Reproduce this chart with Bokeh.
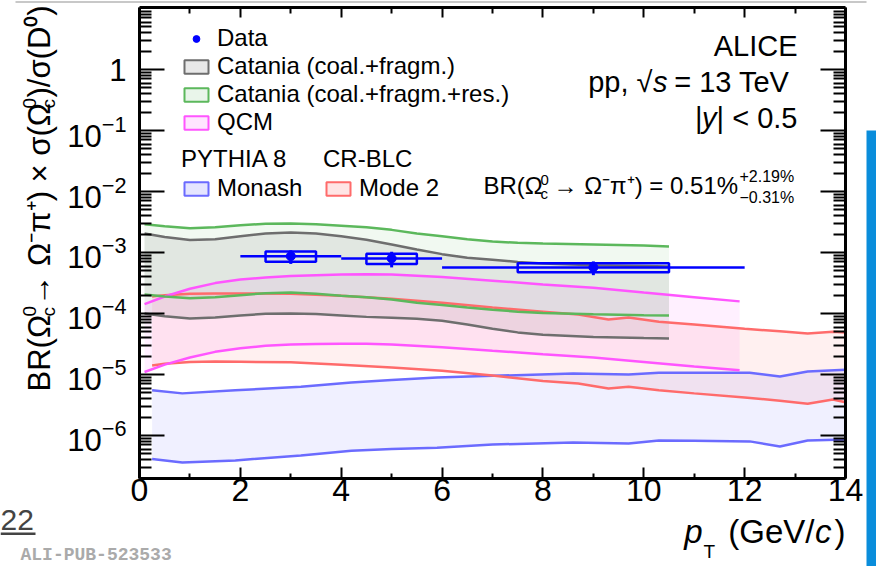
import math
from bokeh.plotting import figure
from bokeh.models import (FixedTicker, LogAxis, LinearAxis, LogTickFormatter, CustomJSTickFormatter,
                          Label, Legend, LegendItem, Range1d, BoxAnnotation)
from bokeh.embed import file_html
from bokeh.resources import INLINE

# ---------------- data ----------------
data_pt = [3.0, 5.0, 9.0]
data_pt_lo = [2.0, 4.0, 6.0]
data_pt_hi = [4.0, 6.0, 12.0]
data_val = [8.7e-4, 8.0e-4, 5.7e-4]
data_stat = [2.2e-4, 2.3e-4, 1.45e-4]
data_sys = [1.65e-4, 1.5e-4, 0.97e-4]

cat_pt = [0.1, 0.5, 1.0, 1.5, 2.0, 2.5, 3.0, 3.5, 4.0, 4.5, 5.0, 5.5, 6.0, 6.5, 7.0, 7.5, 8.0, 9.0, 10.0, 10.5]
cat1_hi = [2.05e-3, 1.8e-3, 1.6e-3, 1.65e-3, 1.85e-3, 2.05e-3, 2.13e-3, 2.05e-3, 1.85e-3, 1.62e-3,
           1.35e-3, 1.12e-3, 9.4e-4, 8.2e-4, 7.6e-4, 7.0e-4, 6.6e-4, 6.2e-4, 6.0e-4, 5.9e-4]
cat1_lo = [1.0e-4, 9.0e-5, 8.3e-5, 8.6e-5, 9.3e-5, 9.9e-5, 1.0e-4, 9.8e-5, 9.3e-5, 8.8e-5,
           8.5e-5, 8.2e-5, 7.6e-5, 6.6e-5, 5.6e-5, 4.9e-5, 4.5e-5, 4.1e-5, 3.95e-5, 3.9e-5]
cat2_hi = [2.9e-3, 2.7e-3, 2.5e-3, 2.6e-3, 2.8e-3, 2.95e-3, 3.0e-3, 2.9e-3, 2.75e-3, 2.6e-3,
           2.35e-3, 2.05e-3, 1.85e-3, 1.65e-3, 1.52e-3, 1.44e-3, 1.4e-3, 1.35e-3, 1.3e-3, 1.26e-3]
cat2_lo = [2.04e-4, 1.9e-4, 1.77e-4, 1.85e-4, 2.0e-4, 2.15e-4, 2.2e-4, 2.1e-4, 1.95e-4, 1.85e-4,
           1.7e-4, 1.5e-4, 1.38e-4, 1.25e-4, 1.15e-4, 1.07e-4, 1.02e-4, 9.7e-5, 9.4e-5, 9.3e-5]

qcm_pt = [0.1, 0.5, 1.0, 1.5, 2.0, 2.5, 3.0, 3.5, 4.0, 4.5, 5.0, 6.0, 7.0, 8.0, 9.0, 10.0, 11.0, 11.9]
qcm_hi = [1.42e-4, 1.9e-4, 2.55e-4, 3.15e-4, 3.6e-4, 3.9e-4, 4.1e-4, 4.25e-4, 4.35e-4, 4.4e-4,
          4.35e-4, 3.95e-4, 3.45e-4, 3.0e-4, 2.65e-4, 2.2e-4, 1.85e-4, 1.58e-4]
qcm_lo = [1.1e-5, 1.45e-5, 1.9e-5, 2.35e-5, 2.7e-5, 2.95e-5, 3.1e-5, 3.15e-5, 3.2e-5, 3.2e-5,
          3.1e-5, 2.8e-5, 2.45e-5, 2.15e-5, 1.9e-5, 1.6e-5, 1.35e-5, 1.17e-5]

mode2_pt = [0.25, 0.5, 1.0, 1.5, 2.0, 3.0, 4.0, 5.0, 6.0, 7.0, 8.0, 8.7, 9.3, 9.7, 10.3, 11.0,
            12.0, 12.7, 13.25, 13.75, 14.0]
mode2_hi = [1.9e-4, 2.0e-4, 2.1e-4, 2.13e-4, 2.13e-4, 2.1e-4, 1.95e-4, 1.75e-4, 1.5e-4, 1.25e-4,
            1.07e-4, 9.6e-5, 8.0e-5, 8.6e-5, 7.3e-5, 6.6e-5, 5.6e-5, 5.1e-5, 4.7e-5, 5.0e-5, 4.9e-5]
mode2_lo = [1.4e-5, 1.5e-5, 1.6e-5, 1.63e-5, 1.62e-5, 1.58e-5, 1.45e-5, 1.3e-5, 1.15e-5, 9.6e-6,
            7.8e-6, 7.1e-6, 5.9e-6, 6.3e-6, 5.5e-6, 4.9e-6, 4.2e-6, 3.7e-6, 3.3e-6, 3.9e-6, 3.5e-6]

monash_pt = [0.25, 0.85, 1.9, 3.2, 4.2, 5.0, 5.9, 7.0, 8.6, 9.7, 10.3, 11.0, 12.1, 12.7, 13.25, 14.0]
monash_hi = [5.5e-6, 4.9e-6, 5.5e-6, 6.3e-6, 7.4e-6, 8.1e-6, 8.9e-6, 9.5e-6, 1.04e-5, 1.0e-5,
             1.07e-5, 1.07e-5, 1.07e-5, 9.3e-6, 1.12e-5, 1.2e-5]
monash_lo = [4.1e-7, 3.6e-7, 3.9e-7, 4.7e-7, 5.6e-7, 6.0e-7, 6.3e-7, 7.1e-7, 7.7e-7, 7.4e-7,
             8.3e-7, 8.2e-7, 8.0e-7, 6.6e-7, 8.3e-7, 8.6e-7]

x_major = [0, 2, 4, 6, 8, 10, 12, 14]
x_minor = [1, 3, 5, 7, 9, 11, 13]
y_major_exp = [-6, -5, -4, -3, -2, -1, 0]

# ---------------- geometry: plot box inside the 876x566 canvas ----------------
W, H = 876, 566
FL, FR, FT, FB = 139.0, 845.0, 7.0, 478.0      # plot box edges in canvas pixels
X0, X1 = 0.0, 14.0                              # axis limits
Y0, Y1 = 1.97e-7, 10.4
LY0, LY1 = math.log10(Y0), math.log10(Y1)


def dx(cx):
    return X0 + (cx - FL) / (FR - FL) * (X1 - X0)


def dy(cy):
    return 10 ** (LY1 - (cy - FT) / (FB - FT) * (LY1 - LY0))


FONT = "Liberation Sans"
p = figure(width=W, height=H, x_range=Range1d(dx(0), dx(W)), y_range=Range1d(dy(H), dy(0)),
           y_axis_type="log", output_backend="svg", toolbar_location=None,
           min_border_left=0, min_border_right=0, min_border_top=0, min_border_bottom=0)
p.title.visible = False
p.xgrid.visible = False
p.ygrid.visible = False
p.outline_line_color = None
p.background_fill_color = "white"
p.border_fill_color = "white"

y_major = [10.0 ** e for e in y_major_exp]
y_minor = [k * 10.0 ** e for e in range(-7, 1) for k in range(2, 10)]
blank = CustomJSTickFormatter(code="return ''")


def style_axis(ax, tin, tmin, label_size="31px", standoff=0):
    ax.axis_line_width = 3
    ax.axis_line_color = "black"
    ax.major_tick_line_width = 2
    ax.minor_tick_line_width = 2
    ax.major_tick_in = tin
    ax.major_tick_out = 0
    ax.minor_tick_in = tmin
    ax.minor_tick_out = 0
    ax.major_label_text_font = FONT
    ax.major_label_text_font_size = label_size
    ax.major_label_text_color = "black"
    ax.major_label_standoff = standoff


yl = p.yaxis[0]
yl.ticker = FixedTicker(ticks=y_major, minor_ticks=y_minor)
yl.formatter = LogTickFormatter(min_exponent=1)
yl.fixed_location = X0
yl.bounds = (Y0, Y1)
style_axis(yl, 25, 12, "31px", 13)

xb = p.xaxis[0]
xb.ticker = FixedTicker(ticks=x_major, minor_ticks=x_minor)
xb.fixed_location = Y0
xb.bounds = (X0, X1)
style_axis(xb, 11, 5, "32px", 0)

yr = LogAxis(ticker=FixedTicker(ticks=y_major, minor_ticks=y_minor), formatter=blank,
             fixed_location=X1, bounds=(Y0, Y1))
style_axis(yr, 25, 12, "2px", 0)
yr.major_label_text_color = None
p.add_layout(yr, "right")

xa = LinearAxis(ticker=FixedTicker(ticks=x_major, minor_ticks=x_minor), formatter=blank,
                fixed_location=Y1, bounds=(X0, X1))
style_axis(xa, 10, 6, "2px", 0)
xa.major_label_text_color = None
p.add_layout(xa, "above")

# ---------------- bands ----------------
bands = [
    (monash_pt, monash_hi, monash_lo, "#0000ff", 0.06, "#6b6bff"),
    (mode2_pt, mode2_hi, mode2_lo, "#ff0000", 0.06, "#ff6b6b"),
    (qcm_pt, qcm_hi, qcm_lo, "#ff00ff", 0.06, "#ff55ff"),
    (cat_pt, cat2_hi, cat2_lo, "#4caf50", 0.08, "#5cb85c"),
    (cat_pt, cat1_hi, cat1_lo, "#808080", 0.14, "#6e6e6e"),
]
leg_r = []
nan = [float("nan")]
for pt, hi, lo, fc, fa, lc in bands:
    p.varea(x=pt, y1=lo, y2=hi, fill_color=fc, fill_alpha=fa)
for pt, hi, lo, fc, fa, lc in bands:
    p.line(pt, hi, line_color=lc, line_width=2.5)
    p.line(pt, lo, line_color=lc, line_width=2.5)
    # legend proxy (draws nothing in the plot)
    leg_r.append(p.quad(left=nan, right=nan, top=nan, bottom=nan, fill_color=fc,
                        fill_alpha=fa + 0.04, line_color=lc, line_width=2))
r_monash, r_mode2, r_qcm, r_cat2, r_cat1 = leg_r

# ---------------- data points ----------------
blue = "#0000ff"
box_half = [(h - l) / 4.0 for l, h in zip(data_pt_lo, data_pt_hi)]
p.segment(x0=data_pt_lo, x1=data_pt_hi, y0=data_val, y1=data_val, line_color=blue, line_width=2.5)
p.quad(left=[x - w for x, w in zip(data_pt, box_half)], right=[x + w for x, w in zip(data_pt, box_half)],
       bottom=[v - s for v, s in zip(data_val, data_sys)], top=[v + s for v, s in zip(data_val, data_sys)],
       fill_color=None, line_color=blue, line_width=2.5)
p.segment(x0=data_pt, x1=data_pt, y0=[v - s for v, s in zip(data_val, data_stat)],
          y1=[v + s for v, s in zip(data_val, data_stat)], line_color=blue, line_width=3)
r_data = p.scatter(data_pt, data_val, size=9, color=blue)

# ---------------- legends ----------------
def mk_legend(items, left, bottom, title=None):
    kw = dict(items=items, location=(left, H - bottom), label_text_font=FONT,
              label_text_font_size="24px", label_text_color="black",
              glyph_width=30, glyph_height=17, label_standoff=6, spacing=-1, padding=0, margin=0,
              border_line_alpha=0, background_fill_alpha=0, label_height=20)
    if title:
        kw.update(title=title, title_text_font=FONT, title_text_font_size="24px",
                  title_text_color="black", title_text_font_style="normal", title_standoff=1)
    lg = Legend(**kw)
    p.add_layout(lg)
    return lg

mk_legend([LegendItem(label="Data", renderers=[r_data]),
           LegendItem(label="Catania (coal.+fragm.)", renderers=[r_cat1]),
           LegendItem(label="Catania (coal.+fragm.+res.)", renderers=[r_cat2]),
           LegendItem(label="QCM", renderers=[r_qcm])], 181, 136)
mk_legend([LegendItem(label="Monash", renderers=[r_monash])], 181, 202, "PYTHIA 8")
mk_legend([LegendItem(label="Mode 2", renderers=[r_mode2])], 323, 202, "CR-BLC")

# ---------------- texts (placed in data coordinates; cx, cy = baseline start in pixels) ----------------
HALF_PI = math.pi / 2
BASE_SHIFT = 0.35   # labels are anchored at mid height; shift so that cy is the baseline


def txt(t, cx, cy, size, align="left", angle=0.0, style="normal", color="black", font=FONT):
    if angle == 0.0:
        cy = cy - BASE_SHIFT * size
    else:
        cx = cx - BASE_SHIFT * size
    p.add_layout(Label(x=dx(cx), y=dy(cy), text=t,
                       text_font=font, text_font_size=f"{size}px", text_align=align,
                       text_baseline="alphabetic", angle=angle, text_font_style=style,
                       text_color=color))

# y-axis title (rotated, reading upwards)
txt("BR(\u03a9", 50, 391, 31, angle=HALF_PI)
txt("0", 36, 316, 19, angle=HALF_PI)
txt("c", 55, 316, 19, angle=HALF_PI)
txt(" \u2192 \u03a9\u207b\u03c0\u207a) \u00d7 \u03c3(\u03a9", 50, 305, 31, angle=HALF_PI)
txt("0", 36, 108, 19, angle=HALF_PI)
txt("c", 55, 108, 19, angle=HALF_PI)
txt(")/\u03c3(D\u2070)", 50, 97, 31, angle=HALF_PI)

# x-axis title
txt("p", 702, 543, 33, align="right", style="italic")
txt("T", 703, 558, 19)
txt("(GeV/", 814, 543, 33, align="right")
txt("c", 831, 543, 33, align="right", style="italic")
txt(")", 845, 543, 33, align="right")

# ALICE block
txt("ALICE", 797, 56, 29, align="right")
txt(" = 13 TeV", 797, 92, 29, align="right")
txt("s", 667, 92, 29, align="right", style="italic")
txt("pp, \u221a", 652, 92, 29, align="right")
txt("| < 0.5", 797, 128, 29, align="right")
txt("y", 716, 128, 29, align="right", style="italic")
txt("|", 702, 128, 29, align="right")

# BR line
txt("BR(\u03a9", 483, 193, 24)
txt("0", 540, 185, 15)
txt("c", 540, 198, 15)
txt(" \u2192 \u03a9\u207b\u03c0\u207a) = 0.51%", 553, 193, 24)
txt("+2.19%", 739, 182, 16)
txt("\u22120.31%", 739, 203, 16)

# page artefacts of the screenshot
txt("ALI-PUB-523533", 20, 561, 18, style="bold", color="#aaaaaa", font="Liberation Mono")
txt("22", 0, 530, 30, color="#444444")
p.add_layout(BoxAnnotation(left=dx(0), right=dx(35), top=dy(532), bottom=dy(534.5),
                           fill_color="#444444", fill_alpha=1, line_color=None))
p.add_layout(BoxAnnotation(left=dx(866), right=dx(W + 5), top=dy(130), bottom=dy(H + 5),
                           fill_color="#0a8ddb", fill_alpha=1, line_color=None))
p.add_layout(BoxAnnotation(left=dx(15), right=dx(866), top=dy(0.5), bottom=dy(2.5),
                           fill_color="#c8c8c8", fill_alpha=1, line_color=None))

out = file_html(p, INLINE)
open("out.html", "w").write(out)
